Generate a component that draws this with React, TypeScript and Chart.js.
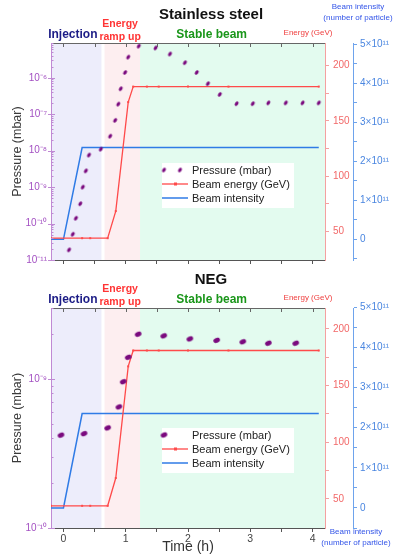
import React, { useEffect, useRef } from "react";
import { Chart, registerables } from "chart.js";
Chart.register(...registerables);

const FONT = '"Liberation Sans", Arial, Helvetica, sans-serif';

// ---------- data ----------
const energyTime = [-0.2, 0.3, 0.43, 0.71, 0.84, 1.04, 1.12, 1.34, 1.53, 2.0, 2.65, 4.1];
const energyGeV = [44, 44, 44, 44, 68.5, 167, 181, 181, 181, 181, 181, 181];

const intensityTime = [-0.2, 0, 0.3, 4.1];
const intensityValues = [0, 0, 2.35e11, 2.35e11];

const regionNames = [["Injection"], ["Energy", "ramp up"], ["Stable beam"]];
const regionStart = [-0.2, 0.66, 1.23];
const regionEnd = [0.61, 1.23, 4.2];
const regionLabelTime = [0.15, 0.91, 2.38];

const ssPressureTime = [0.09, 0.15, 0.2, 0.27, 0.31, 0.36, 0.41, 0.6, 0.75, 0.83, 0.88, 0.92, 0.99, 1.04, 1.21, 1.48, 1.71, 1.95, 2.14, 2.32, 2.51, 2.78, 3.04, 3.29, 3.57, 3.84, 4.1];
const ssPressure = [1.9e-11, 5.1e-11, 1.4e-10, 3.5e-10, 1.0e-9, 2.8e-9, 7.6e-9, 1.1e-8, 2.5e-8, 6.8e-8, 1.9e-7, 5.0e-7, 1.4e-6, 3.7e-6, 7.4e-6, 6.6e-6, 4.5e-6, 2.6e-6, 1.4e-6, 6.9e-7, 3.5e-7, 1.95e-7, 1.95e-7, 2.05e-7, 2.05e-7, 2.05e-7, 2.05e-7];

const negPressureTime = [-0.04, 0.33, 0.71, 0.89, 0.96, 1.04, 1.2, 1.61, 2.03, 2.46, 2.88, 3.29, 3.73];
const negPressure = [4.2e-10, 4.3e-10, 4.7e-10, 6.5e-10, 9.6e-10, 1.4e-9, 2.0e-9, 1.95e-9, 1.86e-9, 1.82e-9, 1.78e-9, 1.74e-9, 1.74e-9];

const timeTickValues = [0, 0.5, 1, 1.5, 2, 2.5, 3, 3.5, 4];
const energyTickValues = [50, 75, 100, 125, 150, 175, 200];
const intensityTickValues = [-0.5e11, 0, 0.5e11, 1e11, 1.5e11, 2e11, 2.5e11, 3e11, 3.5e11, 4e11, 4.5e11, 5e11];

const legendLabels = ["Pressure (mbar)", "Beam energy (GeV)", "Beam intensity"];

// ---------- colours ----------
const C = {
  pressure: "#7a0a7e",
  energy: "#ff4a4a",
  intensity: "#2f7be6",
  leftAxis: "#c08ad4",
  leftLabel: "#a350c2",
  redAxis: "#f4a0a0",
  redLabel: "#f26868",
  blueAxis: "#6ea3ec",
  blueLabel: "#4a86e0",
  regionBg: ["#ededfb", "#fdeef0", "#e3fbef"],
  regionText: ["#1c1c86", "#ff3434", "#1a961a"],
};

const SUP: Record<string, string> = { "-": "⁻", "0": "⁰", "1": "¹", "2": "²", "3": "³", "4": "⁴", "5": "⁵", "6": "⁶", "7": "⁷", "8": "⁸", "9": "⁹" };
const sup = (n: number) => String(n).split("").map((c) => SUP[c] ?? c).join("");

function logTicks(min: number, max: number) {
  const out: { value: number; major: boolean }[] = [];
  for (let e = Math.floor(Math.log10(min)); e <= Math.ceil(Math.log10(max)); e++) {
    for (let k = 1; k <= 9; k++) {
      const v = k * Math.pow(10, e);
      if (v >= min * 0.999 && v <= max * 1.001) out.push({ value: v, major: k === 1 });
    }
  }
  return out;
}

function makeDot(w: number, h: number, angle: number, color: string) {
  const c = document.createElement("canvas");
  const s = Math.ceil(Math.max(w, h)) + 2;
  c.width = s;
  c.height = s;
  const ctx = c.getContext("2d")!;
  ctx.fillStyle = color;
  ctx.beginPath();
  ctx.ellipse(s / 2, s / 2, w / 2, h / 2, angle, 0, Math.PI * 2);
  ctx.fill();
  return c;
}

type Panel = {
  title: string;
  pTime: number[];
  pVal: number[];
  pMin: number;
  pMax: number;
  eMin: number;
  eMax: number;
  iMin: number;
  iMax: number;
  top: number;
  height: number;
  padTop: number;
  xAxisHeight: number;
  showTime: boolean;
  dot: { w: number; h: number; a: number };
  legendDots: number;
  titleY: number;
  intensityTitle: { x: number; y: number[] };
};

const panels: Panel[] = [
  {
    title: "Stainless steel",
    pTime: ssPressureTime,
    pVal: ssPressure,
    pMin: 1e-11,
    pMax: 9e-6,
    eMin: 24.3,
    eMax: 220.4,
    iMin: -0.53e11,
    iMax: 5.03e11,
    top: 0,
    height: 270,
    padTop: 43,
    xAxisHeight: 6,
    showTime: false,
    dot: { w: 4.8, h: 3.2, a: -0.9 },
    legendDots: 2,
    titleY: 15,
    intensityTitle: { x: 358, y: [7, 18] },
  },
  {
    title: "NEG",
    pTime: negPressureTime,
    pVal: negPressure,
    pMin: 1e-10,
    pMax: 3e-9,
    eMin: 24.4,
    eMax: 218.5,
    iMin: -0.5e11,
    iMax: 4.98e11,
    top: 270,
    height: 286,
    padTop: 38,
    xAxisHeight: 28,
    showTime: true,
    dot: { w: 6.8, h: 4.8, a: -0.35 },
    legendDots: 1,
    titleY: 10,
    intensityTitle: { x: 356, y: [262, 273] },
  },
];

function PanelChart({ p }: { p: Panel }) {
  const ref = useRef<HTMLCanvasElement | null>(null);
  useEffect(() => {
    const canvas = ref.current!;
    const dot = makeDot(p.dot.w, p.dot.h, p.dot.a, C.pressure);

    const decor = {
      id: "decor",
      beforeDraw(chart: any) {
        const { ctx, chartArea: ca, scales } = chart;
        const x = scales.x;
        ctx.save();
        for (let i = 0; i < regionStart.length; i++) {
          const x0 = Math.max(ca.left, x.getPixelForValue(regionStart[i]));
          const x1 = Math.min(ca.right, x.getPixelForValue(regionEnd[i]));
          ctx.fillStyle = C.regionBg[i];
          ctx.fillRect(x0, ca.top, x1 - x0, ca.bottom - ca.top);
        }
        ctx.restore();
      },
      afterDatasetsDraw(chart: any) {
        const { ctx, chartArea: ca } = chart;
        const lx = 162, ly = ca.top + 120, lw = 132, lh = 45;
        ctx.save();
        ctx.fillStyle = "#ffffff";
        ctx.fillRect(lx, ly, lw, lh);
        const rows = [ly + 7, ly + 21, ly + 35];
        // pressure symbol
        if (p.legendDots === 2) {
          ctx.drawImage(dot, lx + 2 - dot.width / 2, rows[0] - dot.height / 2);
          ctx.drawImage(dot, lx + 18 - dot.width / 2, rows[0] - dot.height / 2);
        } else {
          ctx.drawImage(dot, lx + 2 - dot.width / 2, rows[0] - dot.height / 2);
        }
        // energy symbol
        ctx.strokeStyle = C.energy;
        ctx.lineWidth = 1.3;
        ctx.beginPath();
        ctx.moveTo(lx, rows[1]);
        ctx.lineTo(lx + 26, rows[1]);
        ctx.stroke();
        ctx.fillStyle = C.energy;
        ctx.fillRect(lx + 12, rows[1] - 1.5, 3, 3);
        // intensity symbol
        ctx.strokeStyle = C.intensity;
        ctx.lineWidth = 1.5;
        ctx.beginPath();
        ctx.moveTo(lx, rows[2]);
        ctx.lineTo(lx + 26, rows[2]);
        ctx.stroke();
        ctx.fillStyle = "#222";
        ctx.font = `11px ${FONT}`;
        ctx.textBaseline = "middle";
        ctx.textAlign = "left";
        legendLabels.forEach((t, i) => ctx.fillText(t, lx + 30, rows[i] + 0.5));
        ctx.restore();
      },
      afterDraw(chart: any) {
        const { ctx, chartArea: ca, scales } = chart;
        const x = scales.x;
        const y = scales.y;
        ctx.save();
        // top frame line + inward ticks
        ctx.strokeStyle = "#666";
        ctx.lineWidth = 1;
        ctx.beginPath();
        ctx.moveTo(ca.left, ca.top + 0.5);
        ctx.lineTo(ca.right, ca.top + 0.5);
        ctx.stroke();
        ctx.beginPath();
        for (const t of timeTickValues) {
          const px = Math.round(x.getPixelForValue(t)) + 0.5;
          ctx.moveTo(px, ca.top);
          ctx.lineTo(px, ca.top + 4);
        }
        ctx.stroke();
        // left log-axis ticks (inward)
        ctx.strokeStyle = C.leftAxis;
        ctx.beginPath();
        for (const t of y.ticks) {
          const py = Math.round(y.getPixelForValue(t.value)) + 0.5;
          const major = Math.abs(Math.log10(t.value) - Math.round(Math.log10(t.value))) < 1e-6;
          ctx.moveTo(ca.left - (major ? 3 : 0), py);
          ctx.lineTo(ca.left + (major ? 4 : 2.5), py);
        }
        ctx.stroke();

        // title
        ctx.fillStyle = "#111";
        ctx.font = `bold 15px ${FONT}`;
        ctx.textAlign = "center";
        ctx.textBaseline = "middle";
        ctx.fillText(p.title, 211, p.titleY);

        // region labels
        for (let i = 0; i < regionNames.length; i++) {
          const px = x.getPixelForValue(regionLabelTime[i]);
          ctx.fillStyle = C.regionText[i];
          const lines = regionNames[i];
          if (lines.length === 1) {
            ctx.font = `bold 12px ${FONT}`;
            ctx.fillText(lines[0], px, ca.top - 8.5);
          } else {
            ctx.font = `bold 10.5px ${FONT}`;
            ctx.fillText(lines[0], px, ca.top - 19);
            ctx.fillText(lines[1], px, ca.top - 6);
          }
        }

        // energy axis title
        ctx.fillStyle = "#ef4040";
        ctx.font = `8px ${FONT}`;
        ctx.fillText("Energy (GeV)", 308, ca.top - 10);

        // intensity axis title
        ctx.fillStyle = "#3355e8";
        ctx.fillText("Beam intensity", p.intensityTitle.x, p.intensityTitle.y[0]);
        ctx.fillText("(number of particle)", p.intensityTitle.x, p.intensityTitle.y[1]);
        ctx.restore();
      },
    };

    const chart = new Chart(canvas, {
      type: "line",
      data: {
        datasets: [
          {
            label: legendLabels[0],
            data: p.pTime.map((t, i) => ({ x: t, y: p.pVal[i] })),
            yAxisID: "y",
            showLine: false,
            pointStyle: dot as any,
            pointRadius: 3,
            backgroundColor: C.pressure,
            borderColor: C.pressure,
          },
          {
            label: legendLabels[1],
            data: energyTime.map((t, i) => ({ x: t, y: energyGeV[i] })),
            yAxisID: "yE",
            borderColor: C.energy,
            backgroundColor: C.energy,
            borderWidth: 1.3,
            pointStyle: "rect",
            pointRadius: 1.4,
            pointBorderWidth: 0,
          },
          {
            label: legendLabels[2],
            data: intensityTime.map((t, i) => ({ x: t, y: intensityValues[i] })),
            yAxisID: "yI",
            borderColor: C.intensity,
            borderWidth: 1.5,
            pointRadius: 0,
          },
        ],
      },
      options: {
        animation: false,
        responsive: false,
        devicePixelRatio: 1,
        layout: { padding: { top: p.padTop, left: 0, right: 0, bottom: 0 } },
        plugins: { legend: { display: false }, tooltip: { enabled: false }, title: { display: false } },
        scales: {
          x: {
            type: "linear",
            min: -0.2,
            max: 4.2,
            afterBuildTicks: (s: any) => {
              s.ticks = timeTickValues.map((v) => ({ value: v }));
            },
            afterFit: (s: any) => {
              s.height = p.xAxisHeight;
            },
            grid: { drawOnChartArea: false, drawTicks: true, tickLength: 4, color: "#555" },
            border: { color: "#555", width: 1 },
            ticks: {
              display: p.showTime,
              autoSkip: false,
              maxRotation: 0,
              padding: 1,
              color: "#444",
              font: { family: FONT, size: 10.5 },
              callback: (v: any) => (Number.isInteger(Number(v)) ? String(v) : ""),
            },
            title: {
              display: p.showTime,
              text: "Time (h)",
              color: "#333",
              font: { family: FONT, size: 14, lineHeight: 1.2 },
              padding: { top: 0, bottom: 0 },
            },
          },
          y: {
            type: "logarithmic",
            position: "left",
            min: p.pMin,
            max: p.pMax,
            afterBuildTicks: (s: any) => {
              s.ticks = logTicks(p.pMin, p.pMax);
            },
            afterFit: (s: any) => {
              s.width = 51;
            },
            grid: { drawOnChartArea: false, drawTicks: false },
            border: { color: C.leftAxis, width: 1 },
            ticks: {
              autoSkip: false,
              padding: 4,
              color: C.leftLabel,
              font: { family: FONT, size: 10 },
              callback: (v: any) => {
                const l = Math.log10(Number(v));
                return Math.abs(l - Math.round(l)) < 1e-6 ? "10" + sup(Math.round(l)) : "";
              },
            },
            title: {
              display: true,
              text: "Pressure (mbar)",
              color: "#3a3a3a",
              font: { family: FONT, size: 12.5, lineHeight: 1.2 },
              padding: { top: 10.5, bottom: 0 },
            },
          },
          yE: {
            type: "linear",
            position: "right",
            weight: 0,
            min: p.eMin,
            max: p.eMax,
            afterBuildTicks: (s: any) => {
              s.ticks = energyTickValues.map((v) => ({ value: v }));
            },
            afterFit: (s: any) => {
              s.width = 28;
            },
            grid: { drawOnChartArea: false, drawTicks: true, tickLength: 4, color: C.redAxis },
            border: { color: C.redAxis, width: 1 },
            ticks: {
              autoSkip: false,
              padding: 4,
              color: C.redLabel,
              font: { family: FONT, size: 10 },
              callback: (v: any) => (Number(v) % 50 === 0 ? String(v) : ""),
            },
          },
          yI: {
            type: "linear",
            position: "right",
            weight: 1,
            min: p.iMin,
            max: p.iMax,
            afterBuildTicks: (s: any) => {
              s.ticks = intensityTickValues.map((v) => ({ value: v }));
            },
            afterFit: (s: any) => {
              s.width = 42;
            },
            grid: { drawOnChartArea: false, drawTicks: true, tickLength: 4, color: C.blueAxis },
            border: { color: C.blueAxis, width: 1 },
            ticks: {
              autoSkip: false,
              padding: 3,
              color: C.blueLabel,
              font: { family: FONT, size: 10 },
              callback: (v: any) => {
                const n = Math.round(Number(v) / 1e10) / 10;
                if (n < 0 || !Number.isInteger(n)) return "";
                return n === 0 ? "0" : `${n}×10${sup(11)}`;
              },
            },
          },
        },
      },
      plugins: [decor],
    } as any);
    return () => chart.destroy();
  }, [p]);
  return (
    <canvas
      ref={ref}
      width={395}
      height={p.height}
      style={{ position: "absolute", left: 0, top: p.top, width: 395, height: p.height, display: "block" }}
    />
  );
}

export default function App() {
  return (
    <div style={{ position: "fixed", left: 0, top: 0, width: 395, height: 556, background: "#fff", overflow: "hidden" }}>
      {panels.map((p) => (
        <PanelChart key={p.title} p={p} />
      ))}
    </div>
  );
}
